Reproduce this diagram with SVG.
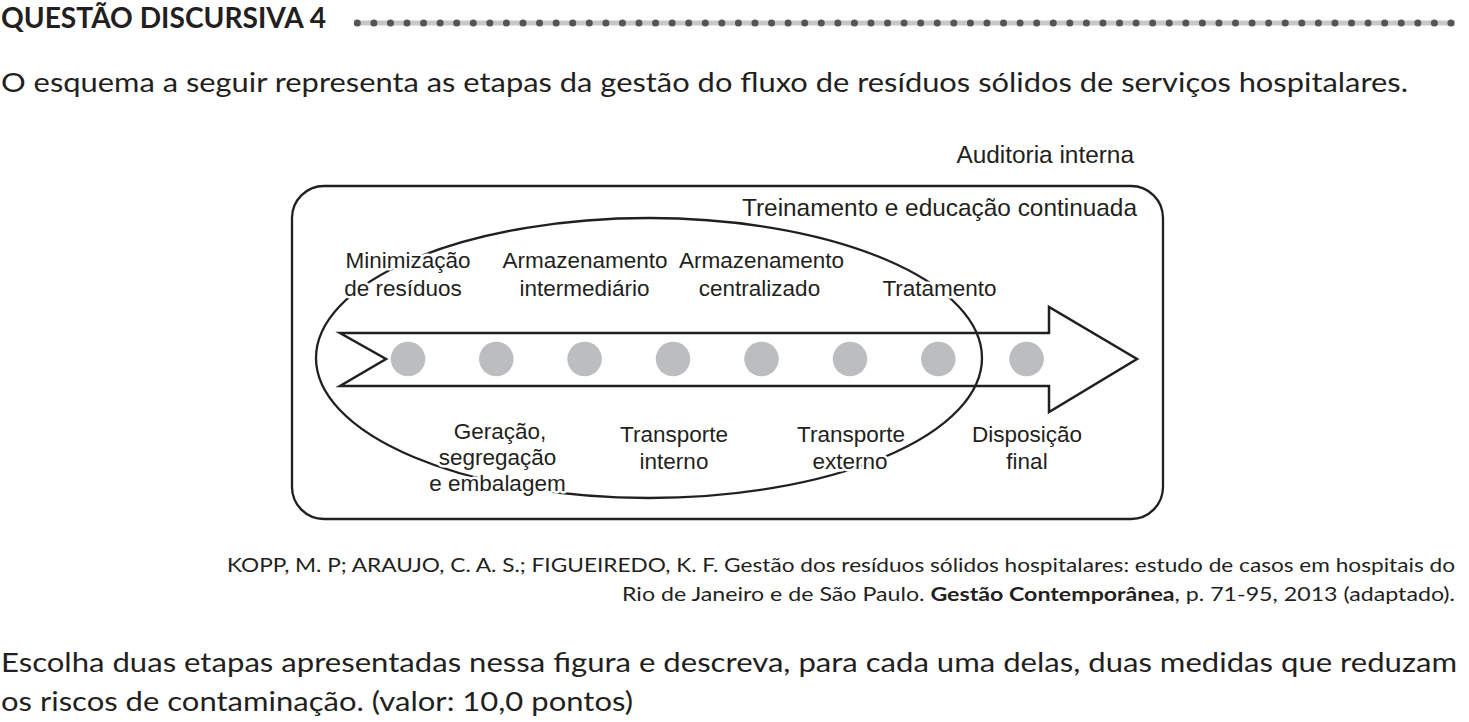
<svg xmlns="http://www.w3.org/2000/svg" width="1469" height="722" viewBox="0 0 1469 722">
<style>
.body{font-family:Lato,"Open Sans","Liberation Sans",sans-serif;fill:#231f20;}
.dg{font-family:"Liberation Sans",Arial,sans-serif;font-size:22.5px;fill:#231f20;text-anchor:middle;}
.dgl{font-family:"Liberation Sans",Arial,sans-serif;font-size:24.4px;fill:#231f20;text-anchor:end;}
.halo{paint-order:stroke;stroke:#fff;stroke-width:5px;stroke-linejoin:round;}
.ln{fill:none;stroke:#231f20;stroke-width:2.3;}
.dot{fill:#bcbdc0;}
</style>
<rect width="1469" height="722" fill="#fff"/>

<g id="header">
  <text class="body" x="1" y="28" font-size="29" font-weight="bold" textLength="325" lengthAdjust="spacingAndGlyphs">QUESTÃO DISCURSIVA 4</text>
  <rect x="354" y="20.5" width="1101" height="5" fill="#c8c8c8"/>
  <line x1="357.3" y1="23" x2="1452" y2="23" stroke="#555" stroke-width="7" stroke-linecap="round" stroke-dasharray="0 16.57"/>
</g>

<text id="intro" class="body" x="1" y="92" font-size="26.5" textLength="1407" lengthAdjust="spacingAndGlyphs">O esquema a seguir representa as etapas da gestão do fluxo de resíduos sólidos de serviços hospitalares.</text>

<g id="diagram">
  <text id="auditoria" class="dgl" x="1134" y="163">Auditoria interna</text>
  <g id="frame">
    <rect class="ln" x="292" y="186" width="871" height="333" rx="32" ry="32" stroke-width="2.5"/>
    <text class="dgl" x="1137" y="216">Treinamento e educação continuada</text>
  </g>

  <g id="connectors">
    <polygon id="arrow" points="340,333 1049,333 1049,307 1137,359 1049,412 1049,386 340,386 386,359" fill="#fff" stroke="#231f20" stroke-width="2.5" stroke-linejoin="miter"/>
    <ellipse id="loop" class="ln" cx="649" cy="358" rx="333" ry="140" stroke-width="2"/>
  </g>

  <g id="stages">
    <circle class="dot" cx="408" cy="359" r="17.3"/>
    <circle class="dot" cx="496.3" cy="359" r="17.3"/>
    <circle class="dot" cx="584.6" cy="359" r="17.3"/>
    <circle class="dot" cx="673" cy="359" r="17.3"/>
    <circle class="dot" cx="761.5" cy="359" r="17.3"/>
    <circle class="dot" cx="850" cy="359" r="17.3"/>
    <circle class="dot" cx="938.3" cy="359" r="17.3"/>
    <circle class="dot" cx="1026.6" cy="359" r="17.3"/>
  </g>

  <g id="n-minimizacao">
    <text class="dg halo" x="408" y="268">Minimização</text>
    <text class="dg halo" x="403" y="296">de resíduos</text>
  </g>
  <g id="n-arm-intermediario">
    <text class="dg halo" x="585" y="268">Armazenamento</text>
    <text class="dg halo" x="584.5" y="296">intermediário</text>
  </g>
  <g id="n-arm-centralizado">
    <text class="dg halo" x="761.5" y="268">Armazenamento</text>
    <text class="dg halo" x="759.5" y="296">centralizado</text>
  </g>
  <g id="n-tratamento">
    <text class="dg halo" x="939.5" y="296">Tratamento</text>
  </g>
  <g id="n-geracao">
    <text class="dg halo" x="500" y="439">Geração,</text>
    <text class="dg halo" x="497.5" y="465">segregação</text>
    <text class="dg halo" x="497.5" y="491">e embalagem</text>
  </g>
  <g id="n-transp-interno">
    <text class="dg halo" x="674" y="442">Transporte</text>
    <text class="dg halo" x="674" y="469">interno</text>
  </g>
  <g id="n-transp-externo">
    <text class="dg halo" x="851" y="442">Transporte</text>
    <text class="dg halo" x="850" y="469">externo</text>
  </g>
  <g id="n-disposicao">
    <text class="dg halo" x="1027" y="442">Disposição</text>
    <text class="dg halo" x="1027" y="469">final</text>
  </g>
</g>

<g id="citation">
  <text class="body" x="227" y="572" font-size="19" textLength="1228" lengthAdjust="spacingAndGlyphs">KOPP, M. P; ARAUJO, C. A. S.; FIGUEIREDO, K. F. Gestão dos resíduos sólidos hospitalares: estudo de casos em hospitais do</text>
  <text class="body" x="622" y="601" font-size="19" textLength="833" lengthAdjust="spacingAndGlyphs">Rio de Janeiro e de São Paulo. <tspan font-weight="bold">Gestão Contemporânea</tspan>, p. 71-95, 2013 (adaptado).</text>
</g>

<g id="question">
  <text class="body" x="1" y="672" font-size="26.5" textLength="1456" lengthAdjust="spacingAndGlyphs">Escolha duas etapas apresentadas nessa figura e descreva, para cada uma delas, duas medidas que reduzam</text>
  <text class="body" x="1" y="711" font-size="26.5" textLength="632" lengthAdjust="spacingAndGlyphs">os riscos de contaminação. (valor: 10,0 pontos)</text>
</g>
</svg>
